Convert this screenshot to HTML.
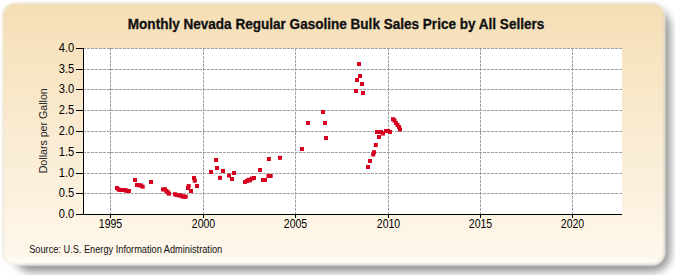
<!DOCTYPE html>
<html><head><meta charset="utf-8"><style>
html,body{margin:0;padding:0;background:#fff;}
body{width:675px;height:275px;overflow:hidden;}
svg{display:block;font-family:"Liberation Sans", sans-serif;}
</style></head><body>
<svg width="675" height="275" viewBox="0 0 675 275">
<defs>
<linearGradient id="bg" gradientUnits="userSpaceOnUse" x1="0" y1="10" x2="0" y2="264">
<stop offset="0" stop-color="#f6dfb6"/>
<stop offset="0.453" stop-color="#f9ead0"/>
<stop offset="0.906" stop-color="#fef6e8"/>
<stop offset="0.974" stop-color="#fef7ea"/>
<stop offset="0.986" stop-color="#fffdf6"/>
<stop offset="1" stop-color="#fffdf6"/>
</linearGradient>
<filter id="sh" x="-5%" y="-5%" width="110%" height="115%"><feGaussianBlur stdDeviation="4.5"/></filter>
<filter id="pb" x="-2%" y="-3%" width="104%" height="106%"><feGaussianBlur stdDeviation="1.1"/></filter>
</defs>
<rect x="0" y="0" width="675" height="275" fill="#ffffff"/>
<rect x="14" y="9" width="656.5" height="263" rx="18" fill="#959595" filter="url(#sh)"/>
<rect x="3" y="3.5" width="661.2" height="261" rx="12" fill="none" stroke="#ffffff" stroke-opacity="0.55" stroke-width="2.6"/>
<g filter="url(#pb)"><rect x="3" y="3.5" width="661.2" height="261" rx="12" fill="url(#bg)" stroke="#d8d0c0" stroke-width="0.8"/></g>
<rect x="83" y="48" width="539" height="166" fill="#ffffff"/>
<path d="M83 48.5H622 M83 69.5H622 M83 89.5H622 M83 110.5H622 M83 131.5H622 M83 152.5H622 M83 173.5H622 M83 193.5H622 M110.5 48V214 M203.5 48V214 M295.5 48V214 M388.5 48V214 M480.5 48V214 M572.5 48V214" stroke="#a0a0a0" stroke-width="1" stroke-dasharray="3 1" fill="none"/>
<path d="M83.5 48V215 M83 214.5H622 M76 48.5H83 M76 69.5H83 M76 89.5H83 M76 110.5H83 M76 131.5H83 M76 152.5H83 M76 173.5H83 M76 193.5H83 M76 214.5H83 M110.5 214V218 M203.5 214V218 M295.5 214V218 M388.5 214V218 M480.5 214V218 M572.5 214V218" stroke="#000" stroke-width="1" fill="none"/>
<rect x="115.00" y="186.00" width="4" height="4" fill="#d6001f"/>
<rect x="116.50" y="187.50" width="4" height="4" fill="#d6001f"/>
<rect x="118.00" y="188.00" width="4" height="4" fill="#d6001f"/>
<rect x="119.50" y="188.00" width="4" height="4" fill="#d6001f"/>
<rect x="121.00" y="188.00" width="4" height="4" fill="#d6001f"/>
<rect x="122.50" y="188.00" width="4" height="4" fill="#d6001f"/>
<rect x="124.00" y="188.50" width="4" height="4" fill="#d6001f"/>
<rect x="125.50" y="189.00" width="4" height="4" fill="#d6001f"/>
<rect x="127.00" y="189.00" width="4" height="4" fill="#d6001f"/>
<rect x="133.00" y="178.00" width="4" height="4" fill="#d6001f"/>
<rect x="135.00" y="183.00" width="4" height="4" fill="#d6001f"/>
<rect x="137.00" y="183.30" width="4" height="4" fill="#d6001f"/>
<rect x="139.00" y="183.50" width="4" height="4" fill="#d6001f"/>
<rect x="140.70" y="184.70" width="4" height="4" fill="#d6001f"/>
<rect x="149.00" y="180.00" width="4" height="4" fill="#d6001f"/>
<rect x="161.00" y="187.50" width="4" height="4" fill="#d6001f"/>
<rect x="163.00" y="187.20" width="4" height="4" fill="#d6001f"/>
<rect x="164.50" y="189.00" width="4" height="4" fill="#d6001f"/>
<rect x="166.00" y="190.50" width="4" height="4" fill="#d6001f"/>
<rect x="167.00" y="191.70" width="4" height="4" fill="#d6001f"/>
<rect x="173.00" y="192.20" width="4" height="4" fill="#d6001f"/>
<rect x="174.50" y="193.00" width="4" height="4" fill="#d6001f"/>
<rect x="176.00" y="193.00" width="4" height="4" fill="#d6001f"/>
<rect x="177.50" y="193.50" width="4" height="4" fill="#d6001f"/>
<rect x="179.00" y="193.50" width="4" height="4" fill="#d6001f"/>
<rect x="180.50" y="194.50" width="4" height="4" fill="#d6001f"/>
<rect x="182.00" y="194.70" width="4" height="4" fill="#d6001f"/>
<rect x="183.70" y="194.70" width="4" height="4" fill="#d6001f"/>
<rect x="186.00" y="186.00" width="4" height="4" fill="#d6001f"/>
<rect x="186.70" y="184.10" width="4" height="4" fill="#d6001f"/>
<rect x="189.00" y="189.00" width="4" height="4" fill="#d6001f"/>
<rect x="192.00" y="176.00" width="4" height="4" fill="#d6001f"/>
<rect x="192.80" y="178.70" width="4" height="4" fill="#d6001f"/>
<rect x="195.00" y="184.00" width="4" height="4" fill="#d6001f"/>
<rect x="209.00" y="170.00" width="4" height="4" fill="#d6001f"/>
<rect x="214.10" y="158.00" width="4" height="4" fill="#d6001f"/>
<rect x="215.00" y="166.00" width="4" height="4" fill="#d6001f"/>
<rect x="218.00" y="175.80" width="4" height="4" fill="#d6001f"/>
<rect x="221.00" y="169.00" width="4" height="4" fill="#d6001f"/>
<rect x="227.00" y="173.50" width="4" height="4" fill="#d6001f"/>
<rect x="230.00" y="177.00" width="4" height="4" fill="#d6001f"/>
<rect x="232.00" y="171.00" width="4" height="4" fill="#d6001f"/>
<rect x="243.00" y="180.00" width="4" height="4" fill="#d6001f"/>
<rect x="245.00" y="179.00" width="4" height="4" fill="#d6001f"/>
<rect x="246.50" y="177.80" width="4" height="4" fill="#d6001f"/>
<rect x="248.00" y="178.30" width="4" height="4" fill="#d6001f"/>
<rect x="249.80" y="176.60" width="4" height="4" fill="#d6001f"/>
<rect x="252.00" y="176.00" width="4" height="4" fill="#d6001f"/>
<rect x="258.00" y="168.00" width="4" height="4" fill="#d6001f"/>
<rect x="261.00" y="178.00" width="4" height="4" fill="#d6001f"/>
<rect x="263.00" y="178.00" width="4" height="4" fill="#d6001f"/>
<rect x="266.50" y="174.00" width="4" height="4" fill="#d6001f"/>
<rect x="268.70" y="174.00" width="4" height="4" fill="#d6001f"/>
<rect x="266.90" y="157.00" width="4" height="4" fill="#d6001f"/>
<rect x="278.00" y="155.80" width="4" height="4" fill="#d6001f"/>
<rect x="300.00" y="147.00" width="4" height="4" fill="#d6001f"/>
<rect x="306.00" y="121.00" width="4" height="4" fill="#d6001f"/>
<rect x="321.00" y="110.00" width="4" height="4" fill="#d6001f"/>
<rect x="323.00" y="121.00" width="4" height="4" fill="#d6001f"/>
<rect x="324.00" y="136.00" width="4" height="4" fill="#d6001f"/>
<rect x="354.00" y="89.00" width="4" height="4" fill="#d6001f"/>
<rect x="355.00" y="78.00" width="4" height="4" fill="#d6001f"/>
<rect x="358.00" y="74.00" width="4" height="4" fill="#d6001f"/>
<rect x="357.00" y="62.00" width="4" height="4" fill="#d6001f"/>
<rect x="360.00" y="82.00" width="4" height="4" fill="#d6001f"/>
<rect x="361.00" y="91.00" width="4" height="4" fill="#d6001f"/>
<rect x="366.00" y="165.00" width="4" height="4" fill="#d6001f"/>
<rect x="368.00" y="159.00" width="4" height="4" fill="#d6001f"/>
<rect x="371.20" y="152.50" width="4" height="4" fill="#d6001f"/>
<rect x="372.00" y="150.20" width="4" height="4" fill="#d6001f"/>
<rect x="373.80" y="143.00" width="4" height="4" fill="#d6001f"/>
<rect x="377.00" y="135.00" width="4" height="4" fill="#d6001f"/>
<rect x="375.00" y="130.00" width="4" height="4" fill="#d6001f"/>
<rect x="377.00" y="130.00" width="4" height="4" fill="#d6001f"/>
<rect x="379.00" y="130.00" width="4" height="4" fill="#d6001f"/>
<rect x="381.00" y="131.50" width="4" height="4" fill="#d6001f"/>
<rect x="384.00" y="129.00" width="4" height="4" fill="#d6001f"/>
<rect x="386.00" y="129.00" width="4" height="4" fill="#d6001f"/>
<rect x="388.00" y="130.00" width="4" height="4" fill="#d6001f"/>
<rect x="391.00" y="117.20" width="4" height="4" fill="#d6001f"/>
<rect x="392.50" y="118.50" width="4" height="4" fill="#d6001f"/>
<rect x="394.00" y="121.00" width="4" height="4" fill="#d6001f"/>
<rect x="395.50" y="123.00" width="4" height="4" fill="#d6001f"/>
<rect x="397.00" y="125.00" width="4" height="4" fill="#d6001f"/>
<rect x="398.00" y="127.50" width="4" height="4" fill="#d6001f"/>
<text x="74.3" y="51.8" text-anchor="end" font-size="12.2" textLength="15.5" lengthAdjust="spacingAndGlyphs" fill="#000">4.0</text>
<text x="74.3" y="72.8" text-anchor="end" font-size="12.2" textLength="15.5" lengthAdjust="spacingAndGlyphs" fill="#000">3.5</text>
<text x="74.3" y="92.8" text-anchor="end" font-size="12.2" textLength="15.5" lengthAdjust="spacingAndGlyphs" fill="#000">3.0</text>
<text x="74.3" y="113.8" text-anchor="end" font-size="12.2" textLength="15.5" lengthAdjust="spacingAndGlyphs" fill="#000">2.5</text>
<text x="74.3" y="134.8" text-anchor="end" font-size="12.2" textLength="15.5" lengthAdjust="spacingAndGlyphs" fill="#000">2.0</text>
<text x="74.3" y="155.8" text-anchor="end" font-size="12.2" textLength="15.5" lengthAdjust="spacingAndGlyphs" fill="#000">1.5</text>
<text x="74.3" y="176.8" text-anchor="end" font-size="12.2" textLength="15.5" lengthAdjust="spacingAndGlyphs" fill="#000">1.0</text>
<text x="74.3" y="196.8" text-anchor="end" font-size="12.2" textLength="15.5" lengthAdjust="spacingAndGlyphs" fill="#000">0.5</text>
<text x="74.3" y="217.8" text-anchor="end" font-size="12.2" textLength="15.5" lengthAdjust="spacingAndGlyphs" fill="#000">0.0</text>
<text x="110.5" y="228" text-anchor="middle" font-size="12.4" textLength="23.4" lengthAdjust="spacingAndGlyphs" fill="#000">1995</text>
<text x="203.5" y="228" text-anchor="middle" font-size="12.4" textLength="23.4" lengthAdjust="spacingAndGlyphs" fill="#000">2000</text>
<text x="295.5" y="228" text-anchor="middle" font-size="12.4" textLength="23.4" lengthAdjust="spacingAndGlyphs" fill="#000">2005</text>
<text x="388.5" y="228" text-anchor="middle" font-size="12.4" textLength="23.4" lengthAdjust="spacingAndGlyphs" fill="#000">2010</text>
<text x="480.5" y="228" text-anchor="middle" font-size="12.4" textLength="23.4" lengthAdjust="spacingAndGlyphs" fill="#000">2015</text>
<text x="572.5" y="228" text-anchor="middle" font-size="12.4" textLength="23.4" lengthAdjust="spacingAndGlyphs" fill="#000">2020</text>
<text x="127.8" y="28.8" font-size="14" font-weight="bold" textLength="416.5" lengthAdjust="spacingAndGlyphs" fill="#111" stroke="#111" stroke-width="0.3">Monthly Nevada Regular Gasoline Bulk Sales Price by All Sellers</text>
<text transform="translate(47.3 130.8) rotate(-90)" text-anchor="middle" font-size="11.5" textLength="85" lengthAdjust="spacingAndGlyphs" fill="#222">Dollars per Gallon</text>
<text x="29.2" y="253" font-size="10.4" textLength="193" lengthAdjust="spacingAndGlyphs" fill="#111">Source: U.S. Energy Information Administration</text>
</svg>
</body></html>
